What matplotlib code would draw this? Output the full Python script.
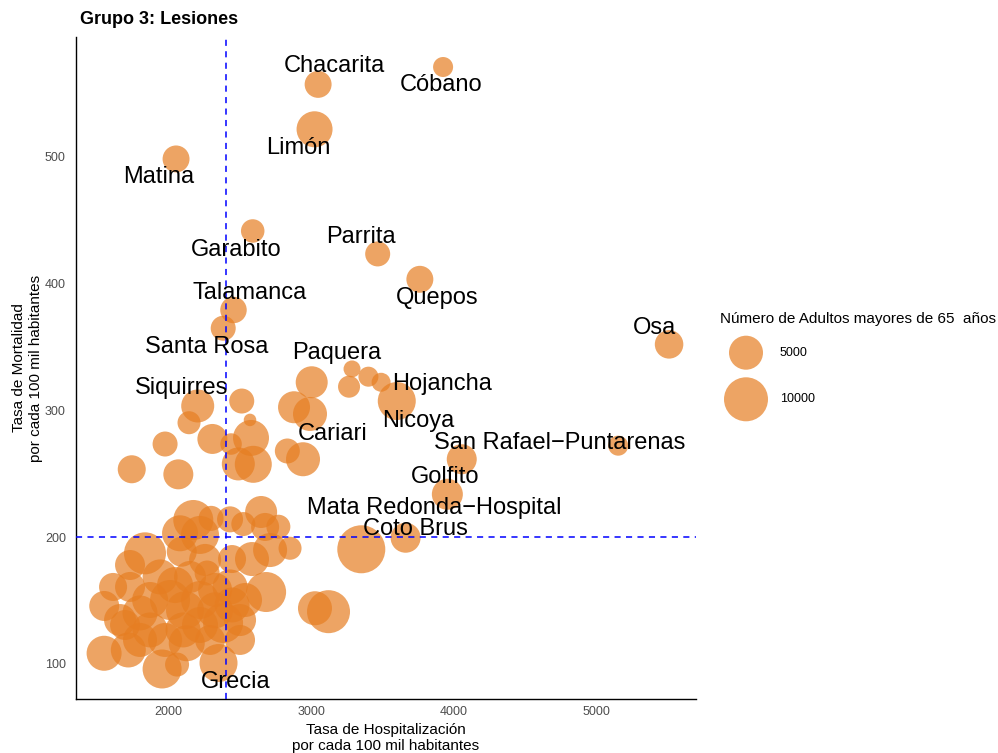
import matplotlib
matplotlib.use("Agg")
import matplotlib.pyplot as plt
import numpy as np

plt.rcParams['font.family'] = ['Liberation Sans', 'DejaVu Sans']

# ---------------- data ----------------
hosp = [3926, 3049, 3024, 2052, 2590, 3467, 3763, 2455, 2383, 5512,
        3287, 3402, 3491, 3266, 3004, 3601, 2880, 2992, 2833, 2943,
        4057, 5155, 3956, 3663, 3352, 2513, 2571, 2578, 2438, 2204,
        2143, 2307, 1975, 1741, 2068, 2489, 2594, 2173, 2298, 2431,
        2649, 2524, 2677, 2770, 1834, 2080, 2220, 2092, 2445, 2585,
        2712, 2852, 2684, 3027, 3122, 2350, 1547, 1954, 2059, 1717,
        2127, 1548, 2382, 2445, 1799, 2101, 1729, 1940, 2150, 2270,
        2431, 1610, 1870, 2220, 2010, 1694, 2291, 2501,
        1870, 2115, 2326, 1975, 1799, 2220, 2501, 1659, 2045, 2326,
        2536, 1729, 2256]
mort = [570.7, 557.0, 521.6, 498.2, 441.4, 423.3, 403.3, 379.1, 364.7, 352.0,
        332.6, 326.5, 322.1, 318.6, 322.1, 307.3, 302.4, 297.1, 267.9, 261.4,
        261.4, 272.1, 233.8, 199.5, 190.4, 307.3, 292.4, 278.2, 273.4, 303.4,
        290.2, 277.4, 273.4, 253.5, 249.5, 257.7, 257.4, 213.5, 214.8, 214.0,
        219.8, 210.3, 208.0, 208.2, 187.2, 203.0, 201.7, 188.5, 182.7, 182.7,
        189.8, 191.2, 156.7, 143.9, 141.2, 100.7, 108.4, 96.0, 99.5, 111.0,
        116.3, 145.7, 132.3, 146.5, 140.2, 126.8, 160.7, 168.6, 168.6, 171.7,
        160.7, 160.7, 126.8, 150.4, 150.4, 130.7, 118.9, 118.9,
        150.4, 142.3, 142.3, 118.9, 118.9, 130.7, 134.6, 134.6, 162.2, 158.3,
        150.4, 178.0, 182.0]
adultos = [880, 2500, 5850, 2500, 1590, 1960, 2500, 2370, 1960, 2980,
           430, 880, 710, 1260, 4200, 6790, 4200, 5000, 1960, 5000,
           3470, 880, 3830, 3470, 12480, 1960, 60, 5850, 1160, 4590,
           1480, 3470, 1960, 2820, 3470, 4590, 6320, 7790, 1960, 2230,
           4200, 1710, 2820, 1710, 8860, 5850, 6790, 3470, 2820, 5000,
           5000, 1480, 7790, 5000, 9420, 6790, 5420, 7280, 1710, 5420,
           5850, 3470, 7790, 5420, 5420, 5420, 3470, 5420, 4200, 1960,
           5420, 2820, 5420, 6790, 7790, 3470, 3470, 3470,
           5850, 6790, 5850, 5000, 5000, 5850, 4200, 4200, 5850, 5000,
           5000, 3470, 4200]

label_names = ["Chacarita", "Cóbano", "Limón", "Matina", "Garabito", "Parrita",
               "Quepos", "Talamanca", "Santa Rosa", "Osa", "Paquera", "Hojancha",
               "Siquirres", "Nicoya", "Cariari", "San Rafael\u2212Puntarenas",
               "Golfito", "Mata Redonda\u2212Hospital", "Coto Brus", "Grecia"]
label_x = [3161, 3915, 2908, 1933, 2476, 3352, 3882, 2568, 2266, 5407,
           3179, 3917, 2091, 3752, 3150, 4743, 3940, 3865, 3729, 2467]
label_y = [571.8, 556.5, 507.1, 484.2, 426.4, 436.9, 388.3, 392.3, 350.2, 365.2,
           345.0, 320.8, 317.4, 291.8, 281.1, 274.0, 247.2, 222.7, 206.2, 86.0]

ref_hosp = 2405
ref_mort = 200

legend_values = [5000, 10000]
legend_labels = ["5000", "10000"]

x_ticks = [2000, 3000, 4000, 5000]
y_ticks = [100, 200, 300, 400, 500]

title = "Grupo 3: Lesiones"
xlabel = "Tasa de Hospitalización\npor cada 100 mil habitantes"
ylabel = "Tasa de Mortalidad\npor cada 100 mil habitantes"
legend_title = "Número de Adultos mayores de 65  años"

COLOR = "#E67E22"
ALPHA = 0.7
DPI = 100


def marker_area(n):
    d_px = 9.9 + 0.341 * np.sqrt(np.asarray(n, dtype=float))
    return (d_px * 72.0 / DPI) ** 2


# ---------------- figure ----------------
W, H = 998, 753
fig = plt.figure(figsize=(W / DPI, H / DPI), dpi=DPI)
ax = fig.add_axes([75.6 / W, 1 - 699.3 / H, (696 - 75.6) / W, (699.3 - 36.7) / H])

ax.scatter(hosp, mort, s=marker_area(adultos), color=COLOR, alpha=ALPHA,
           edgecolors='none', zorder=2)

ax.axvline(ref_hosp, color='#0000FF', lw=1.1, ls=(0, (4, 3.5)), zorder=3)
ax.axhline(ref_mort, color='#0000FF', lw=1.1, ls=(0, (4, 3.5)), zorder=3)

for name, lx, ly in zip(label_names, label_x, label_y):
    ax.text(lx, ly, name, fontsize=17, ha='center', va='center', color='black', zorder=4)

ax.set_xlim(1347, 5701)
ax.set_ylim(72.1, 594.6)
ax.set_xticks(x_ticks)
ax.set_yticks(y_ticks)
ax.tick_params(axis='both', length=0, labelsize=9, colors='#4D4D4D')
ax.tick_params(axis='x', pad=5)
ax.tick_params(axis='y', pad=7)
for side in ['top', 'right']:
    ax.spines[side].set_visible(False)
for side in ['left', 'bottom']:
    ax.spines[side].set_linewidth(1.0)
    ax.spines[side].set_color('black')

fig.text(80.5 / W, 1 - 20 / H, title, fontsize=13, fontweight='bold', ha='left', va='center')
fig.text(386 / W, 1 - 738 / H, xlabel, fontsize=11, ha='center', va='center',
         linespacing=1.2, multialignment='center')
fig.text(27.5 / W, 1 - 368 / H, ylabel, fontsize=11, ha='center', va='center',
         rotation=90, linespacing=1.2, multialignment='center')

# ---------------- legend ----------------
lax = fig.add_axes([700 / W, 1 - 430 / H, 298 / W, 130 / H])
lax.set_xlim(700, 998)
lax.set_ylim(430, 300)
lax.axis('off')
leg_y = [352.7, 399.3]
lax.scatter([746] * len(legend_values), leg_y, s=marker_area(legend_values),
            color=COLOR, alpha=ALPHA, edgecolors='none')
for lab, yy in zip(legend_labels, leg_y):
    lax.text(780, yy, lab, fontsize=9, ha='left', va='center', color='black')
lax.text(720, 319, legend_title, fontsize=11, ha='left', va='center', color='black')

fig.savefig("out.png", dpi=DPI)
